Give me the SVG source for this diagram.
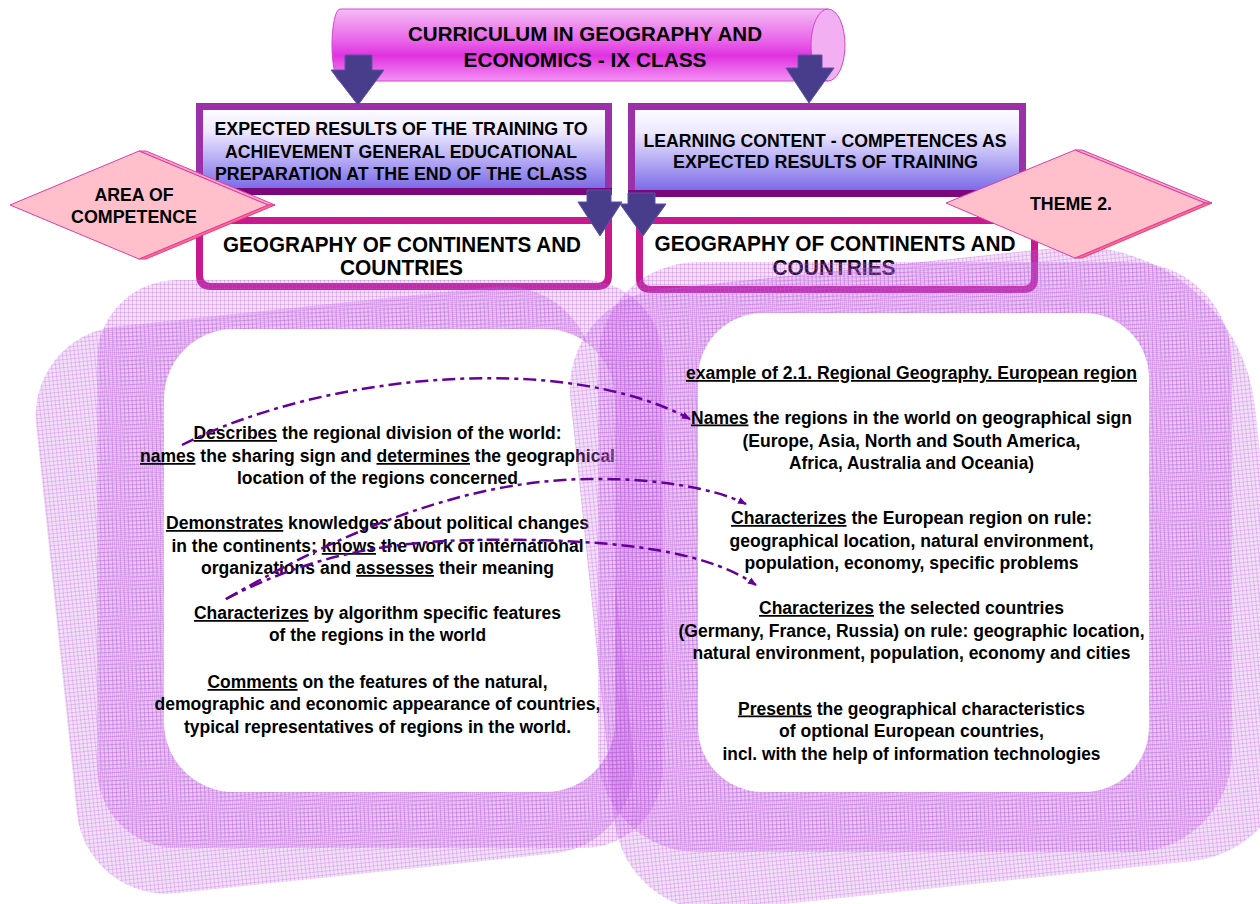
<svg xmlns="http://www.w3.org/2000/svg" width="1260" height="904" viewBox="0 0 1260 904">
<style>
.t{font-family:"Liberation Sans",Arial,sans-serif;font-weight:bold;fill:#000;text-anchor:middle}
.b{font-size:17.5px}
.h{font-size:18px}
.g{font-size:22px}
.u{text-decoration:underline}
.layer{fill:url(#grid)}
.white{fill:#fff}
.conn{fill:none;stroke:#650099;stroke-width:2.5;stroke-dasharray:13 5 4 5;marker-end:url(#ah)}
.barrow{fill:#483d8b;stroke:#5e50a8;stroke-width:1}
.dface{fill:#ffc0cb;stroke:#e03aa6;stroke-width:1}
.dtop{fill:#f9a8c6;stroke:#e03aa6;stroke-width:1}
.dbot{fill:#ff6a8a;stroke:#e04080;stroke-width:1}
.hbox{fill:url(#boxGrad);stroke:#9c30a8;stroke-width:7}
.gbox{fill:#fff;stroke:#c8198e;stroke-width:7}
</style>
<defs>
<pattern id="grid" width="4" height="4" patternUnits="userSpaceOnUse">
<rect width="4" height="4" fill="#c264e2" fill-opacity="0.2"/>
<path d="M0,0.5H4M0.5,0V4" stroke="#b456d8" stroke-opacity="0.26" stroke-width="1"/>
</pattern>
<linearGradient id="cylGrad" x1="0" y1="0" x2="0" y2="1">
<stop offset="0" stop-color="#f4bcf4"/>
<stop offset="0.45" stop-color="#e862e8"/>
<stop offset="0.65" stop-color="#e032e0"/>
<stop offset="1" stop-color="#f490f4"/>
</linearGradient>
<linearGradient id="boxGrad" x1="0" y1="0" x2="0" y2="1">
<stop offset="0" stop-color="#ffffff"/>
<stop offset="0.3" stop-color="#ece8ff"/>
<stop offset="1" stop-color="#7565e6"/>
</linearGradient>
<marker id="ah" viewBox="0 0 10 10" refX="9" refY="5" markerWidth="9" markerHeight="9" markerUnits="userSpaceOnUse" orient="auto">
<path d="M0,1 L10,5 L0,9 Z" fill="#650099"/>
</marker>
</defs>

<g id="header-left">
<rect class="hbox" x="199.5" y="106.5" width="409" height="85"/>
<line x1="196" y1="191.5" x2="612" y2="191.5" stroke="#7a087a" stroke-width="7"/>
<text class="t h" x="401" y="135" textLength="373" lengthAdjust="spacingAndGlyphs">EXPECTED RESULTS OF THE TRAINING TO</text>
<text class="t h" x="401" y="158" textLength="352" lengthAdjust="spacingAndGlyphs">ACHIEVEMENT GENERAL EDUCATIONAL</text>
<text class="t h" x="401" y="180" textLength="372" lengthAdjust="spacingAndGlyphs">PREPARATION AT THE END OF THE CLASS</text>
</g>
<g id="header-right">
<rect class="hbox" x="631.5" y="106.5" width="391" height="87"/>
<line x1="628" y1="193.5" x2="1026" y2="193.5" stroke="#7a087a" stroke-width="7"/>
<text class="t h" x="825" y="147" textLength="363" lengthAdjust="spacingAndGlyphs">LEARNING CONTENT - COMPETENCES AS</text>
<text class="t h" x="825.5" y="168" textLength="305" lengthAdjust="spacingAndGlyphs">EXPECTED RESULTS OF TRAINING</text>
</g>
<g id="geo-left">
<path class="gbox" d="M199.5,220.5 H608.5 V275 Q608.5,286.5 597,286.5 H211 Q199.5,286.5 199.5,275 Z"/>
<text class="t g" x="402" y="252" textLength="358" lengthAdjust="spacingAndGlyphs">GEOGRAPHY OF CONTINENTS AND</text>
<text class="t g" x="401.5" y="275" textLength="123" lengthAdjust="spacingAndGlyphs">COUNTRIES</text>
</g>
<g id="geo-right">
<path class="gbox" d="M639.5,220.5 H1034.5 V278 Q1034.5,289.5 1023,289.5 H651 Q639.5,289.5 639.5,278 Z"/>
<text class="t g" x="835" y="251" textLength="361" lengthAdjust="spacingAndGlyphs">GEOGRAPHY OF CONTINENTS AND</text>
<text class="t g" x="834" y="275" textLength="123" lengthAdjust="spacingAndGlyphs">COUNTRIES</text>
</g>

<g id="panel-left">
<rect class="layer" x="55" y="305" width="560" height="570" rx="90" transform="rotate(-6 335 590)"/>
<rect class="layer" x="97" y="280" width="566" height="568" rx="80"/>
<rect class="white" x="164" y="329" width="451" height="463" rx="70"/>
<text class="t b" x="377.5" y="439" textLength="368" lengthAdjust="spacingAndGlyphs"><tspan class="u">Describes</tspan> the regional division of the world:</text>
<text class="t b" x="377.5" y="462" textLength="475" lengthAdjust="spacingAndGlyphs"><tspan class="u">names</tspan> the sharing sign and <tspan class="u">determines</tspan> the geographical</text>
<text class="t b" x="377.5" y="484" textLength="281" lengthAdjust="spacingAndGlyphs">location of the regions concerned</text>
<text class="t b" x="377.5" y="529" textLength="423" lengthAdjust="spacingAndGlyphs"><tspan class="u">Demonstrates</tspan> knowledges about political changes</text>
<text class="t b" x="377.5" y="552" textLength="412" lengthAdjust="spacingAndGlyphs">in the continents; <tspan class="u">knows</tspan> the work of international</text>
<text class="t b" x="377.5" y="574" textLength="353" lengthAdjust="spacingAndGlyphs">organizations and <tspan class="u">assesses</tspan> their meaning</text>
<text class="t b" x="377.5" y="619" textLength="367" lengthAdjust="spacingAndGlyphs"><tspan class="u">Characterizes</tspan> by algorithm specific features</text>
<text class="t b" x="377.5" y="641" textLength="217" lengthAdjust="spacingAndGlyphs">of the regions in the world</text>
<text class="t b" x="377.5" y="688" textLength="340" lengthAdjust="spacingAndGlyphs"><tspan class="u">Comments</tspan> on the features of the natural,</text>
<text class="t b" x="377.5" y="710" textLength="446" lengthAdjust="spacingAndGlyphs">demographic and economic appearance of countries,</text>
<text class="t b" x="377.5" y="733" textLength="387" lengthAdjust="spacingAndGlyphs">typical representatives of regions in the world.</text>
</g>

<g id="panel-right">
<path class="layer" d="M100,0 H500 A180,180 0 0 1 680,180 V514 A110,110 0 0 1 570,624 H100 A100,100 0 0 1 0,524 V100 A100,100 0 0 1 100,0 Z" transform="translate(560 300) rotate(-6)"/>
<rect class="layer" x="598" y="262" width="634" height="590" rx="100"/>
<rect class="white" x="698" y="313" width="451" height="479" rx="65"/>
<text class="t b" x="911.5" y="379" textLength="451" lengthAdjust="spacingAndGlyphs"><tspan class="u">example of 2.1. Regional Geography. European region</tspan></text>
<text class="t b" x="911.5" y="423.5" textLength="441" lengthAdjust="spacingAndGlyphs"><tspan class="u">Names</tspan> the regions in the world on geographical sign</text>
<text class="t b" x="911.5" y="446.5" textLength="338" lengthAdjust="spacingAndGlyphs">(Europe, Asia, North and South America,</text>
<text class="t b" x="911.5" y="469" textLength="245" lengthAdjust="spacingAndGlyphs">Africa, Australia and Oceania)</text>
<text class="t b" x="911.5" y="524" textLength="361" lengthAdjust="spacingAndGlyphs"><tspan class="u">Characterizes</tspan> the European region on rule:</text>
<text class="t b" x="911.5" y="546.5" textLength="364" lengthAdjust="spacingAndGlyphs">geographical location, natural environment,</text>
<text class="t b" x="911.5" y="569" textLength="334" lengthAdjust="spacingAndGlyphs">population, economy, specific problems</text>
<text class="t b" x="911.5" y="614" textLength="305" lengthAdjust="spacingAndGlyphs"><tspan class="u">Characterizes</tspan> the selected countries</text>
<text class="t b" x="911.5" y="637" textLength="466" lengthAdjust="spacingAndGlyphs">(Germany, France, Russia) on rule: geographic location,</text>
<text class="t b" x="911.5" y="659" textLength="438" lengthAdjust="spacingAndGlyphs">natural environment, population, economy and cities</text>
<text class="t b" x="911.5" y="714.5" textLength="347" lengthAdjust="spacingAndGlyphs"><tspan class="u">Presents</tspan> the geographical characteristics</text>
<text class="t b" x="911.5" y="737" textLength="265" lengthAdjust="spacingAndGlyphs">of optional European countries,</text>
<text class="t b" x="911.5" y="759.5" textLength="378" lengthAdjust="spacingAndGlyphs">incl. with the help of information technologies</text>
</g>

<g id="connectors">
<path class="conn" d="M182,445 C320,375 560,350 690,419"/>
<path class="conn" d="M226,599 C320,545 450,480 590,479 C650,478 712,487 746,504"/>
<path class="conn" d="M226,599 C330,545 420,538 530,540 C640,542 712,555 756,585"/>
</g>

<g id="title">
<path d="M340,9 H828 V81 H340 A8,36 0 0 1 340,9 Z" fill="url(#cylGrad)" stroke="#d048d0" stroke-width="1"/>
<ellipse cx="828" cy="45" rx="17" ry="36" fill="#f2b0f2" stroke="#d048d0" stroke-width="1"/>
<text class="t" font-size="21" x="585" y="41" textLength="354" lengthAdjust="spacingAndGlyphs">CURRICULUM IN GEOGRAPHY AND</text>
<text class="t" font-size="21" x="585" y="67" textLength="243" lengthAdjust="spacingAndGlyphs">ECONOMICS - IX CLASS</text>
</g>

<g id="block-arrows">
<polygon class="barrow" points="345,55 372,55 372,70 384,70 358,105 331,70 345,70"/>
<polygon class="barrow" points="798,55 822,55 822,68 834,68 809,103 786,68 798,68"/>
<polygon class="barrow" points="587,190 611,190 611,202 622,202 600,236 578,202 587,202"/>
<polygon class="barrow" points="628,193 655,193 655,204 666,204 643,236 620,204 628,204"/>
</g>

<g id="diamond-area">
<polygon class="dtop" points="139,151 146,151 275,205 268,205"/>
<polygon class="dbot" points="268,205 275,205 146,259 139,259"/>
<polygon class="dface" points="10,205 139,151 268,205 139,259"/>
<text class="t" font-size="17.5" x="134" y="201" textLength="79" lengthAdjust="spacingAndGlyphs">AREA OF</text>
<text class="t" font-size="17.5" x="134" y="223" textLength="126" lengthAdjust="spacingAndGlyphs">COMPETENCE</text>
</g>
<g id="diamond-theme">
<polygon class="dtop" points="1075,150 1082,150 1212,203 1205,203"/>
<polygon class="dbot" points="1205,203 1212,203 1082,258 1075,258"/>
<polygon class="dface" points="946,203 1075,150 1205,203 1075,258"/>
<text class="t" font-size="17.5" x="1071" y="210" textLength="82" lengthAdjust="spacingAndGlyphs">THEME 2.</text>
</g>
</svg>
